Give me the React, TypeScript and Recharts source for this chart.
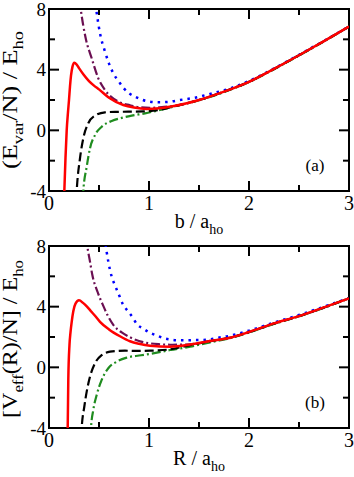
import { LineChart, Line, XAxis, YAxis, ReferenceArea } from 'recharts';

// panel (a): E_var / N vs b
const redAX = [0.148, 0.165, 0.177, 0.19, 0.2, 0.21, 0.22, 0.235, 0.253, 0.275, 0.3, 0.343, 0.4, 0.45, 0.5, 0.6, 0.743, 0.85, 0.977, 1.1, 1.25, 1.5, 1.75, 2.0, 2.25, 2.5, 2.75, 3.0];
const redAY = [-5, -1.8, 0, 1.2, 2.0, 2.9, 3.6, 4.2, 4.45, 4.35, 4.1, 3.7, 3.25, 2.95, 2.7, 2.15, 1.67, 1.5, 1.41, 1.45, 1.6, 2.0, 2.55, 3.2, 4.05, 4.95, 5.88, 6.84];
const blueAX = [0.455, 0.51, 0.56, 0.6, 0.653, 0.7, 0.743, 0.8, 0.86, 0.93, 1.01, 1.1, 1.2, 1.31, 1.46, 1.61, 1.76, 2.0, 2.25, 2.5, 2.75, 3.0];
const blueAY = [8.8, 6.4, 5.19, 4.4, 3.65, 3.2, 2.81, 2.45, 2.22, 2.02, 1.89, 1.85, 1.88, 2.0, 2.15, 2.4, 2.66, 3.25, 4.08, 4.98, 5.9, 6.84];
const purpleAX = [0.305, 0.317, 0.367, 0.427, 0.493, 0.56, 0.693, 0.81, 0.91, 1.01, 1.15, 1.25, 1.5, 1.75, 2.0, 2.25, 2.5, 2.75, 3.0];
const purpleAY = [8.6, 8.0, 6.07, 4.75, 3.43, 2.66, 1.89, 1.65, 1.52, 1.48, 1.55, 1.6, 2.0, 2.55, 3.2, 4.05, 4.95, 5.88, 6.84];
const blackAX = [0.272, 0.277, 0.31, 0.343, 0.393, 0.46, 0.56, 0.68, 0.793, 0.94, 1.11, 1.25, 1.5, 1.75, 2.0, 2.25, 2.5, 2.75, 3.0];
const blackAY = [-4.6, -4.0, -1.84, -0.52, 0.47, 0.97, 1.19, 1.22, 1.23, 1.25, 1.36, 1.58, 2.0, 2.55, 3.2, 4.05, 4.95, 5.88, 6.84];
const greenAX = [0.338, 0.343, 0.377, 0.41, 0.46, 0.527, 0.627, 0.727, 0.827, 0.96, 1.11, 1.31, 1.5, 1.75, 2.0, 2.25, 2.5, 2.75, 3.0];
const greenAY = [-4.5, -4.0, -2.4, -1.18, -0.31, 0.24, 0.62, 0.82, 0.97, 1.12, 1.34, 1.67, 1.98, 2.52, 3.18, 4.03, 4.93, 5.87, 6.84];

// panel (b): V_eff(R) / N vs R
const redBX = [0.18, 0.187, 0.193, 0.205, 0.215, 0.227, 0.243, 0.265, 0.3, 0.34, 0.38, 0.42, 0.46, 0.51, 0.6, 0.71, 0.81, 0.9, 1.01, 1.21, 1.41, 1.61, 1.79, 2.0, 2.25, 2.5, 2.75, 3.0];
const redBY = [-5, -4.0, -0.8, 1.5, 2.3, 3.0, 3.7, 4.2, 4.42, 4.25, 4.0, 3.7, 3.4, 3.0, 2.5, 2.05, 1.72, 1.55, 1.42, 1.36, 1.5, 1.74, 1.92, 2.33, 2.9, 3.38, 3.95, 4.55];
const blueBX = [0.555, 0.593, 0.627, 0.66, 0.693, 0.743, 0.793, 0.843, 0.877, 0.943, 1.01, 1.08, 1.14, 1.23, 1.31, 1.39, 1.46, 1.53, 1.61, 1.69, 1.76, 2.0, 2.25, 2.5, 2.75, 3.0];
const blueBY = [8.6, 6.97, 5.98, 5.4, 4.88, 4.11, 3.67, 3.23, 2.86, 2.55, 2.28, 2.09, 1.93, 1.82, 1.78, 1.78, 1.8, 1.8, 1.85, 1.95, 2.02, 2.42, 2.95, 3.45, 4.0, 4.57];
const purpleBX = [0.372, 0.383, 0.41, 0.433, 0.487, 0.543, 0.593, 0.643, 0.727, 0.81, 0.9, 0.99, 1.11, 1.21, 1.41, 1.61, 1.79, 2.0, 2.25, 2.5, 2.75, 3.0];
const purpleBY = [8.6, 8.0, 6.97, 6.1, 4.95, 4.05, 3.34, 2.8, 2.3, 1.98, 1.74, 1.6, 1.52, 1.49, 1.52, 1.74, 1.92, 2.33, 2.9, 3.38, 3.95, 4.55];
const blackBX = [0.322, 0.327, 0.353, 0.377, 0.41, 0.46, 0.527, 0.61, 0.76, 0.843, 1.01, 1.18, 1.34, 1.51, 1.68, 1.85, 2.0, 2.25, 2.5, 2.75, 3.0];
const blackBY = [-4.6, -4.0, -2.6, -1.6, -0.62, 0.27, 0.81, 1.03, 1.1, 1.08, 1.1, 1.16, 1.36, 1.59, 1.8, 2.02, 2.32, 2.88, 3.37, 3.94, 4.55];
const greenBX = [0.415, 0.42, 0.443, 0.477, 0.527, 0.593, 0.677, 0.777, 0.9, 1.01, 1.21, 1.41, 1.61, 1.78, 2.0, 2.25, 2.5, 2.75, 3.0];
const greenBY = [-4.6, -4.0, -2.81, -1.82, -0.83, -0.06, 0.37, 0.64, 0.78, 0.88, 1.14, 1.36, 1.65, 1.87, 2.3, 2.86, 3.36, 3.93, 4.55];

const xTicks = [0, 0.5, 1, 1.5, 2, 2.5, 3];
const yTicks = [-4, -2, 0, 2, 4, 6, 8];

const W = 354;
const H = 238;
const PL = 49;
const PR = 349;
const PT = 9;
const PB = 191;
const FONT = '"Liberation Serif", "Times New Roman", serif';
const txt = { fontFamily: FONT };

const zip = (xs: number[], ys: number[]) => xs.map((x, i) => ({ x, y: ys[i] }));

const seriesA = [
  { key: 'blue', data: zip(blueAX, blueAY), color: '#0000ff', dash: '2.5 5', width: 2.5 },
  { key: 'purple', data: zip(purpleAX, purpleAY), color: '#6b0f52', dash: '9 3 2 3', width: 2.2 },
  { key: 'green', data: zip(greenAX, greenAY), color: '#1f8c1f', dash: '9 3 2 3', width: 2.2 },
  { key: 'black', data: zip(blackAX, blackAY), color: '#000000', dash: '9 4', width: 2.2 },
  { key: 'red', data: zip(redAX, redAY), color: '#ff0000', dash: undefined, width: 2.5 },
];

const seriesB = [
  { key: 'blue', data: zip(blueBX, blueBY), color: '#0000ff', dash: '2.5 5', width: 2.5 },
  { key: 'purple', data: zip(purpleBX, purpleBY), color: '#6b0f52', dash: '9 3 2 3', width: 2.2 },
  { key: 'green', data: zip(greenBX, greenBY), color: '#1f8c1f', dash: '9 3 2 3', width: 2.2 },
  { key: 'black', data: zip(blackBX, blackBY), color: '#000000', dash: '9 4', width: 2.2 },
  { key: 'red', data: zip(redBX, redBY), color: '#ff0000', dash: undefined, width: 2.5 },
];

function XTick(props: any) {
  const { x, payload } = props;
  const major = Number.isInteger(payload.value);
  const len = major ? 10 : 6;
  return (
    <g>
      <line x1={x} x2={x} y1={PB} y2={PB - len} stroke="#000" strokeWidth={2} />
      <line x1={x} x2={x} y1={PT} y2={PT + len} stroke="#000" strokeWidth={2} />
      {major && (
        <text x={x} y={PB + 19} textAnchor="middle" style={txt} fontSize={20} fill="#000">
          {payload.value}
        </text>
      )}
    </g>
  );
}

function YTick(props: any) {
  const { y, payload } = props;
  const major = payload.value % 4 === 0;
  const len = major ? 10 : 6;
  return (
    <g>
      <line x1={PL} x2={PL + len} y1={y} y2={y} stroke="#000" strokeWidth={2} />
      <line x1={PR} x2={PR - len} y1={y} y2={y} stroke="#000" strokeWidth={2} />
      {major && (
        <text x={PL - 3} y={y + 6.5} textAnchor="end" style={txt} fontSize={19} fill="#000">
          {payload.value}
        </text>
      )}
    </g>
  );
}

function Panel({ series, xMain, yLabel, tag }: { series: typeof seriesA; xMain: string; yLabel: any; tag: string }) {
  return (
    <LineChart width={W} height={H} margin={{ top: PT, right: W - PR, bottom: 0, left: 0 }}>
      <XAxis
        type="number"
        dataKey="x"
        domain={[0, 3]}
        ticks={xTicks}
        interval={0}
        allowDataOverflow
        axisLine={false}
        tickLine={false}
        tick={<XTick />}
        height={H - PB}
        label={{
          content: () => (
            <text x={199} y={PB + 37} textAnchor="middle" style={txt} fontSize={20} fill="#000">
              {xMain} / a<tspan dy={6} fontSize={14}>ho</tspan>
            </text>
          ),
        }}
      />
      <YAxis
        type="number"
        domain={[-4, 8]}
        ticks={yTicks}
        interval={0}
        allowDataOverflow
        axisLine={false}
        tickLine={false}
        tick={<YTick />}
        width={PL}
        label={{ content: () => yLabel }}
      />
      <ReferenceArea x1={0} x2={3} y1={-4} y2={8} fill="none" stroke="#000" strokeWidth={2} />
      {series.map((s) => (
        <Line
          key={s.key}
          data={s.data}
          dataKey="y"
          type="monotone"
          stroke={s.color}
          strokeWidth={s.width}
          strokeDasharray={s.dash}
          dot={false}
          activeDot={false}
          isAnimationActive={false}
        />
      ))}
      <text x={315} y={171} textAnchor="middle" style={txt} fontSize={17} fill="#000">
        {tag}
      </text>
    </LineChart>
  );
}

const yLabelA = (
  <text
    transform={`translate(17,${(PT + PB) / 2}) rotate(-90)`}
    textAnchor="middle"
    style={txt}
    fontSize={20}
    fill="#000"
    textLength={138}
    lengthAdjust="spacingAndGlyphs"
  >
    (E<tspan dy={6} fontSize={14}>var</tspan>
    <tspan dy={-6}>/N) / E</tspan>
    <tspan dy={6} fontSize={14}>ho</tspan>
  </text>
);

const yLabelB = (
  <text
    transform={`translate(17,${(PT + PB) / 2 + 2}) rotate(-90)`}
    textAnchor="middle"
    style={txt}
    fontSize={20}
    fill="#000"
    textLength={158}
    lengthAdjust="spacingAndGlyphs"
  >
    [V<tspan dy={6} fontSize={14}>eff</tspan>
    <tspan dy={-6}>(R)/N] / E</tspan>
    <tspan dy={6} fontSize={14}>ho</tspan>
  </text>
);

export default function App() {
  return (
    <div style={{ position: 'absolute', left: 0, top: 0, width: W, height: 477, background: '#fff' }}>
      <Panel series={seriesA} xMain="b" yLabel={yLabelA} tag="(a)" />
      <div style={{ position: 'absolute', left: 0, top: 237 }}>
        <Panel series={seriesB} xMain="R" yLabel={yLabelB} tag="(b)" />
      </div>
    </div>
  );
}
